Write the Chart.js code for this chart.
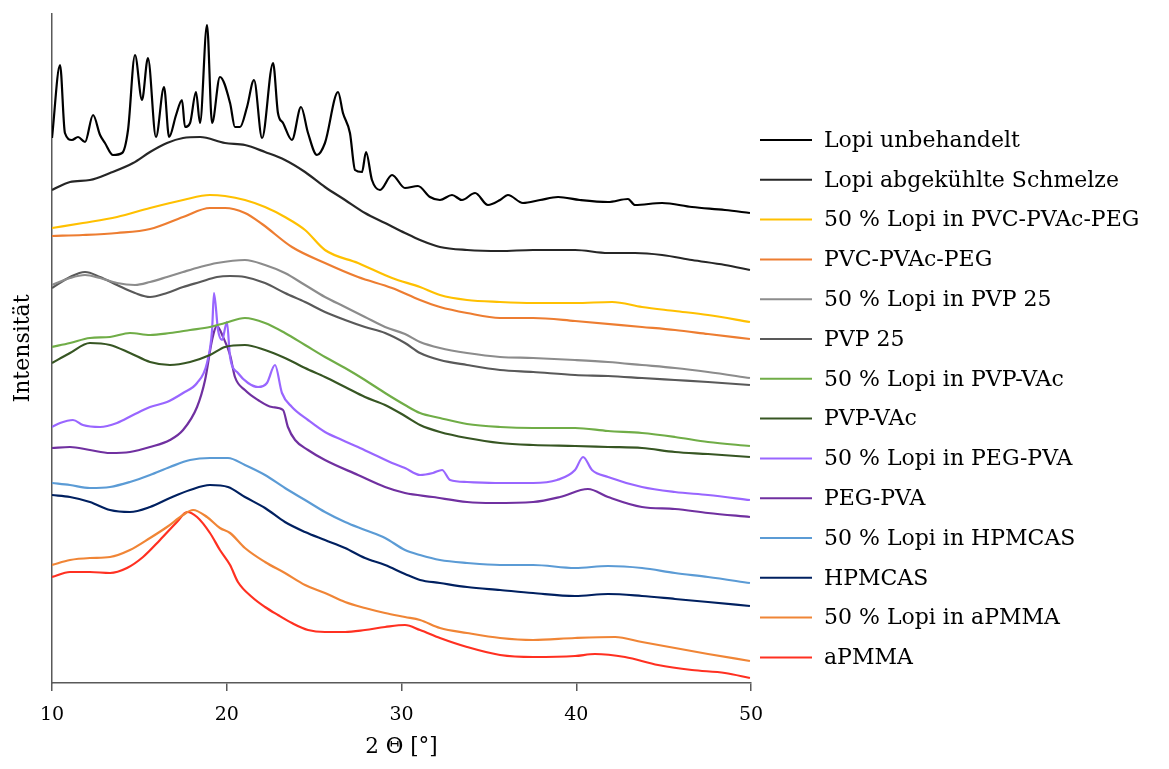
<!DOCTYPE html>
<html>
<head>
<meta charset="utf-8">
<script src="https://cdn.jsdelivr.net/npm/chart.js@4.4.1/dist/chart.umd.min.js"></script>
<style>
html, body { margin: 0; padding: 0; background: #fff; }
#wrap { width: 1169px; height: 769px; position: relative; }
</style>
</head>
<body>
<div id="wrap"><canvas id="xrdChart"></canvas></div>
<script>
// 2 Theta [deg] / Intensitaet (arbitrary units, curves stacked)
var lopiUnbehandelt = [[10.00,545],[10.46,618],[10.74,550],[11.14,543],[11.49,546],[11.89,541],[12.35,568],[12.75,548],[13.03,540],[13.49,528],[14.01,530],[14.35,553],[14.75,628],[15.15,583],[15.49,625],[15.95,546],[16.41,596],[16.70,546],[17.10,568],[17.44,583],[17.61,556],[17.90,560],[18.24,591],[18.47,560],[18.87,658],[19.16,560],[19.61,606],[20.19,580],[20.47,556],[20.76,556],[21.16,576],[21.56,603],[22.02,545],[22.65,620],[22.93,570],[23.22,560],[23.73,543],[24.25,576],[24.65,550],[25.16,528],[25.62,540],[26.37,591],[26.65,570],[27.05,550],[27.34,513],[27.74,511],[27.97,531],[28.31,503],[28.77,493],[29.46,508],[30.20,495],[30.94,497],[31.63,486],[32.20,483],[32.89,488],[33.46,483],[34.21,490],[34.95,478],[35.64,483],[36.09,488],[36.95,480],[37.93,483],[38.96,486],[40.21,483],[41.82,481],[42.96,484],[43.36,478],[44.91,480],[46.62,476],[48.51,473],[49.94,470]];
var lopiSchmelze = [[10.00,493],[11.03,501],[12.17,503],[13.32,510],[14.64,520],[15.61,531],[16.58,540],[17.50,545],[18.47,546],[19.90,540],[21.04,538],[22.19,531],[23.33,523],[24.48,511],[25.62,496],[26.77,483],[27.91,470],[29.06,460],[30.20,450],[31.06,443],[32.20,436],[33.75,433],[35.64,432],[37.53,433],[39.93,433],[41.82,430],[43.36,430],[44.91,428],[46.62,423],[48.51,418],[49.94,413]];
var lopiPvcPvacPeg = [[10.00,455],[11.77,460],[13.72,466],[15.61,475],[17.50,483],[19.04,488],[19.90,487],[21.04,483],[22.19,476],[23.33,466],[24.48,453],[25.62,433],[27.51,420],[29.46,405],[31.06,396],[32.20,388],[33.75,383],[35.64,381],[37.53,380],[39.93,380],[42.05,381],[43.76,376],[45.65,372],[47.54,368],[49.94,361]];
var pvcPvacPeg = [[10.00,447],[11.77,448],[13.72,450],[15.61,454],[17.50,466],[19.04,475],[19.90,475],[21.04,470],[22.02,459],[23.73,436],[25.62,420],[27.51,406],[29.46,395],[31.06,383],[32.20,376],[33.75,370],[35.64,365],[37.53,365],[39.93,362],[43.76,356],[45.65,353],[47.54,349],[49.94,344]];
var lopiPvp25 = [[10.00,398],[11.03,405],[11.89,408],[12.75,405],[13.72,400],[14.75,398],[15.61,401],[16.58,406],[17.50,411],[18.47,416],[19.44,420],[21.04,423],[22.19,418],[23.33,410],[24.48,398],[25.62,386],[26.77,376],[27.91,366],[29.06,356],[30.20,349],[31.06,341],[32.20,335],[33.75,330],[35.64,326],[37.53,325],[39.93,323],[41.82,321],[43.76,318],[45.65,315],[47.54,311],[49.94,305]];
var pvp25 = [[10.00,395],[11.03,406],[11.89,411],[12.75,406],[13.72,398],[14.75,390],[15.61,386],[16.58,390],[17.50,396],[18.47,401],[19.44,406],[20.19,407],[21.04,406],[22.19,400],[23.33,390],[24.48,381],[25.62,371],[26.77,363],[27.91,356],[29.06,350],[30.20,340],[31.06,330],[32.20,323],[33.75,318],[35.64,313],[37.53,311],[39.93,308],[41.82,307],[43.76,305],[45.65,303],[47.54,301],[49.94,298]];
var lopiPvpVac = [[10.00,336],[11.03,340],[12.17,345],[13.32,346],[14.46,350],[15.61,348],[16.75,350],[17.90,353],[19.04,356],[19.90,360],[21.04,365],[22.19,360],[23.33,350],[24.48,338],[25.62,326],[26.77,315],[27.91,303],[29.06,290],[30.20,278],[31.06,270],[32.20,265],[33.75,259],[35.64,256],[37.53,255],[39.93,255],[41.82,252],[43.76,250],[45.65,246],[47.54,241],[49.94,237]];
var pvpVac = [[10.00,320],[11.03,330],[12.17,340],[13.32,338],[14.46,330],[15.61,321],[16.75,318],[17.90,321],[19.04,328],[19.90,336],[21.04,338],[22.19,333],[23.33,325],[24.48,315],[25.62,306],[26.77,296],[27.91,286],[29.06,278],[30.20,267],[31.06,258],[32.20,251],[33.75,245],[35.64,240],[37.53,238],[39.93,237],[41.82,236],[43.76,235],[45.65,231],[47.54,229],[49.94,226]];
var lopiPegPva = [[10.00,256],[10.46,260],[11.20,263],[11.77,258],[12.75,256],[13.72,260],[14.64,268],[15.61,276],[16.58,281],[17.50,290],[18.30,300],[18.87,320],[19.16,353],[19.27,390],[19.50,353],[19.73,343],[20.01,361],[20.19,326],[20.64,310],[21.22,300],[21.79,296],[22.30,300],[22.76,318],[23.16,290],[23.73,276],[24.65,263],[25.62,251],[26.60,243],[27.51,236],[28.48,228],[29.46,220],[30.20,215],[31.06,208],[31.80,210],[32.32,213],[32.78,203],[33.75,201],[35.64,200],[37.53,200],[38.90,203],[39.93,213],[40.39,226],[40.90,213],[41.82,206],[43.76,196],[45.65,191],[47.54,188],[49.94,183]];
var pegPva = [[10.00,235],[11.03,236],[12.17,233],[13.32,230],[14.46,231],[15.61,236],[16.75,243],[17.50,253],[18.30,276],[18.76,303],[19.16,343],[19.44,357],[19.79,346],[20.19,328],[20.47,306],[21.04,293],[21.79,283],[22.59,276],[23.22,273],[23.50,256],[23.91,243],[24.65,233],[25.62,223],[27.51,208],[29.06,196],[30.20,190],[31.80,186],[33.75,181],[35.24,180],[37.53,181],[39.07,186],[40.67,194],[41.82,186],[43.76,176],[45.65,174],[47.54,170],[49.94,166]];
var lopiHpmcas = [[10.00,200],[11.03,198],[12.17,195],[13.32,196],[14.46,201],[15.61,208],[16.75,216],[17.90,223],[19.04,225],[20.07,225],[21.04,218],[22.19,208],[23.33,195],[24.48,183],[25.62,171],[26.77,161],[27.91,153],[29.06,145],[30.20,133],[31.06,128],[32.20,123],[33.75,120],[35.64,118],[37.53,118],[39.93,115],[41.82,117],[43.76,115],[45.65,110],[47.54,106],[49.94,100]];
var hpmcas = [[10.00,188],[11.03,186],[12.17,181],[13.32,173],[14.46,171],[15.61,176],[16.75,185],[17.90,193],[19.04,198],[20.07,196],[21.04,186],[22.19,175],[23.33,161],[24.48,151],[25.62,143],[26.77,135],[27.91,125],[29.06,118],[30.20,109],[31.06,103],[32.20,100],[33.75,96],[35.64,93],[37.53,90],[39.93,87],[41.82,89],[43.76,87],[45.65,84],[47.54,81],[49.94,77]];
var lopiApmma = [[10.00,118],[11.03,123],[12.17,125],[13.32,126],[14.46,133],[15.61,145],[16.58,156],[17.50,168],[18.07,173],[18.87,166],[19.61,155],[20.19,150],[21.04,135],[22.19,121],[23.33,110],[24.48,98],[25.62,90],[26.77,81],[27.91,75],[29.06,70],[30.20,66],[31.06,63],[32.20,55],[33.75,50],[35.64,45],[37.53,43],[39.93,45],[42.22,46],[43.76,41],[45.65,35],[47.54,29],[49.94,22]];
var apmma = [[10.00,106],[11.03,111],[12.17,111],[13.32,110],[14.29,115],[15.21,126],[16.18,143],[17.15,161],[17.73,171],[18.30,166],[19.04,150],[19.61,133],[20.19,118],[20.64,101],[21.44,86],[22.19,76],[22.93,68],[23.73,60],[24.65,53],[25.62,51],[26.77,51],[27.91,53],[29.06,56],[30.20,58],[31.06,53],[32.20,45],[33.75,36],[35.64,28],[37.53,26],[39.93,27],[41.07,29],[42.79,26],[44.68,18],[46.62,13],[48.51,10],[49.94,5]];

var seriesNames = ['Lopi unbehandelt', 'Lopi abgekühlte Schmelze', '50 % Lopi in PVC-PVAc-PEG', 'PVC-PVAc-PEG', '50 % Lopi in PVP 25', 'PVP 25', '50 % Lopi in PVP-VAc', 'PVP-VAc', '50 % Lopi in PEG-PVA', 'PEG-PVA', '50 % Lopi in HPMCAS', 'HPMCAS', '50 % Lopi in aPMMA', 'aPMMA'];
var seriesData = [lopiUnbehandelt, lopiSchmelze, lopiPvcPvacPeg, pvcPvacPeg, lopiPvp25, pvp25, lopiPvpVac, pvpVac, lopiPegPva, pegPva, lopiHpmcas, hpmcas, lopiApmma, apmma];
var seriesColors = ['#000000', '#262626', '#FFC000', '#ED7D31', '#8C8C8C', '#595959', '#70AD47', '#375623', '#9966FF', '#7030A0', '#5B9BD5', '#002060', '#F08536', '#FF3021'];
var xTicks = [10, 20, 30, 40, 50];

var fontName = '"DejaVu Serif", serif';

var datasets = seriesData.map(function(d, i) {
    return {
        label: seriesNames[i],
        data: d.map(function(p) { return {x: p[0], y: p[1]}; }),
        borderColor: seriesColors[i],
        backgroundColor: seriesColors[i],
        borderWidth: 2.2,
        pointRadius: 0,
        cubicInterpolationMode: 'monotone',
        fill: false
    };
});

// legend drawn to the right of the plot, lines + text
var sideLegend = {
    id: 'sideLegend',
    afterDraw: function(chart) {
        var ctx = chart.ctx;
        var x0 = chart.chartArea.right + 9;
        ctx.save();
        ctx.font = '22px ' + fontName;
        ctx.textBaseline = 'middle';
        ctx.textAlign = 'left';
        chart.data.datasets.forEach(function(ds, i) {
            var y = 140 + i * 39.8;
            ctx.strokeStyle = ds.borderColor;
            ctx.lineWidth = 2;
            ctx.beginPath();
            ctx.moveTo(x0, y);
            ctx.lineTo(x0 + 52, y);
            ctx.stroke();
            ctx.fillStyle = '#000';
            ctx.fillText(ds.label, x0 + 64, y + 1);
        });
        ctx.restore();
    }
};

var ctx = document.getElementById('xrdChart');
new Chart(ctx, {
    type: 'line',
    data: { datasets: datasets },
    options: {
        responsive: true,
        maintainAspectRatio: false,
        animation: false,
        layout: { padding: { left: 0, right: 418, top: 14, bottom: 0 } },
        plugins: {
            legend: { display: false },
            tooltip: { enabled: false }
        },
        scales: {
            x: {
                type: 'linear',
                min: 10,
                max: 50,
                afterBuildTicks: function(s) { s.ticks = xTicks.map(function(v) { return {value: v}; }); },
                afterFit: function(s) { s.height = 86; },
                ticks: { color: '#000', padding: 13, font: { family: fontName, size: 19 } },
                grid: { drawOnChartArea: false, drawTicks: true, tickLength: 8, color: '#595959', lineWidth: 1.5 },
                border: { color: '#595959', width: 1.5 },
                title: { display: true, text: '2 Θ [°]', color: '#000', padding: { top: 0, bottom: 9 }, font: { family: fontName, size: 21.5 } }
            },
            y: {
                min: 0,
                max: 669,
                afterFit: function(s) { s.width = 52; },
                ticks: { display: false },
                grid: { drawOnChartArea: false, drawTicks: false },
                border: { color: '#595959', width: 1.5 },
                title: { display: true, text: 'Intensität', color: '#000', padding: { top: 10, bottom: 0 }, font: { family: fontName, size: 22 } }
            }
        }
    },
    plugins: [sideLegend]
});
</script>
</body>
</html>
